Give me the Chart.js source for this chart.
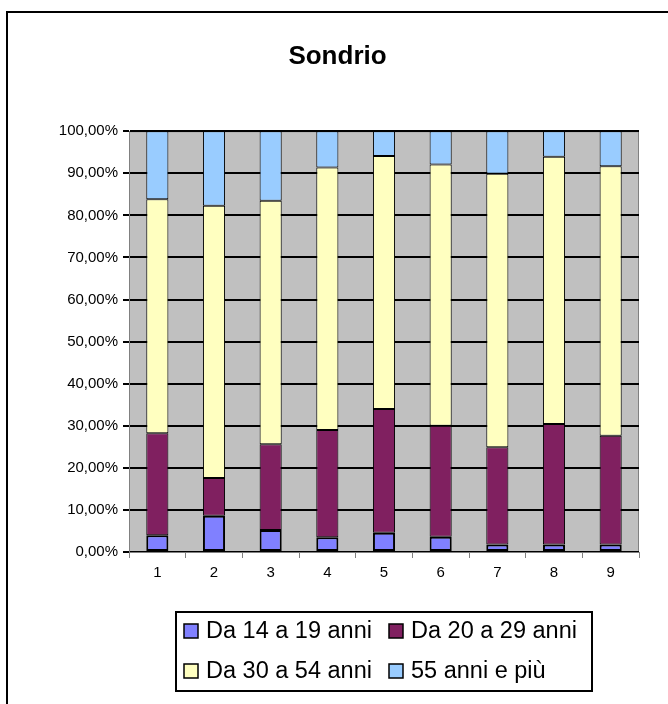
<!DOCTYPE html>
<html lang="it">
<head>
    <meta charset="UTF-8">
    <title>Sondrio</title>
    <script src="https://cdn.jsdelivr.net/npm/chart.js"></script>
    <style>
        body {
            margin: 0;
            background: #ffffff;
        }
        canvas {
            display: block;
        }
    </style>
</head>
<body>
    <canvas id="sondrioChart" width="668" height="704"></canvas>
    <script>
        // Quote per fascia d'età (percentuali, sommano a 100 per ogni colonna)
        const categories = ['1', '2', '3', '4', '5', '6', '7', '8', '9'];
        const eta14_19 = [4.0, 8.6, 5.2, 3.5, 4.6, 3.6, 1.8, 1.8, 1.8];
        const eta20_29 = [24.2, 9.0, 20.4, 25.5, 29.4, 26.4, 23.1, 28.6, 25.8];
        const eta30_54 = [55.6, 64.7, 57.9, 62.4, 60.1, 62.1, 65.0, 63.5, 64.1];
        const eta55piu = [16.2, 17.7, 16.5, 8.6, 5.9, 7.9, 10.1, 6.1, 8.3];
        const seriesNames = ['Da 14 a 19 anni', 'Da 20 a 29 anni', 'Da 30 a 54 anni', '55 anni e più'];
        const seriesColors = ['#8080FF', '#802060', '#FFFFC0', '#99CCFF'];
        const yTicks = [0, 10, 20, 30, 40, 50, 60, 70, 80, 90, 100];

        const FONT = 'Arial, "Liberation Sans", sans-serif';

        // sfondo grigio dell'area del grafico e cornice esterna
        const plotBackground = {
            id: 'plotBackground',
            beforeDraw(chart) {
                const { ctx, chartArea: a } = chart;
                ctx.save();
                ctx.fillStyle = '#C0C0C0';
                ctx.fillRect(a.left, a.top, a.right - a.left, a.bottom - a.top);
                ctx.strokeStyle = '#808080';
                ctx.lineWidth = 1;
                ctx.strokeRect(a.left + 0.5, a.top + 0.5, a.right - a.left - 1, a.bottom - a.top);
                // cornice del riquadro
                ctx.strokeStyle = '#000000';
                ctx.lineWidth = 2;
                ctx.beginPath();
                ctx.moveTo(7, chart.height);
                ctx.lineTo(7, 12);
                ctx.lineTo(chart.width, 12);
                ctx.stroke();
                ctx.restore();
            }
        };

        // legenda in riquadro, due colonne allineate
        const boxedLegend = {
            id: 'boxedLegend',
            afterDraw(chart) {
                const { ctx } = chart;
                ctx.save();
                ctx.strokeStyle = '#000000';
                ctx.lineWidth = 2;
                ctx.strokeRect(176, 612, 416, 79);
                const cols = [184, 389];
                const rows = [631, 671];
                ctx.font = '23.5px ' + FONT;
                ctx.textBaseline = 'middle';
                chart.data.datasets.forEach((ds, i) => {
                    const x = cols[i % 2];
                    const y = rows[Math.floor(i / 2)];
                    ctx.fillStyle = ds.backgroundColor;
                    ctx.fillRect(x, y - 7, 14, 14);
                    ctx.strokeStyle = '#000000';
                    ctx.lineWidth = 1.5;
                    ctx.strokeRect(x, y - 7, 14, 14);
                    ctx.fillStyle = '#000000';
                    ctx.fillText(ds.label, x + 22, y + 1);
                });
                ctx.restore();
            }
        };

        const datasets = [eta14_19, eta20_29, eta30_54, eta55piu].map((values, i) => ({
            label: seriesNames[i],
            data: values,
            backgroundColor: seriesColors[i],
            borderColor: '#000000',
            borderWidth: i === 0 ? 2 : 1,
            borderSkipped: false,
            barPercentage: 0.39,
            categoryPercentage: 1
        }));

        new Chart(document.getElementById('sondrioChart'), {
            type: 'bar',
            data: {
                labels: categories,
                datasets: datasets
            },
            options: {
                responsive: false,
                animation: false,
                layout: {
                    padding: { left: 36, right: 29, top: 0, bottom: 112 }
                },
                plugins: {
                    legend: { display: false },
                    tooltip: { enabled: false },
                    title: {
                        display: true,
                        text: 'Sondrio',
                        color: '#000000',
                        font: { family: FONT, size: 26, weight: 'bold', lineHeight: 1.2 },
                        padding: { top: 41, bottom: 59 }
                    }
                },
                scales: {
                    x: {
                        stacked: true,
                        afterFit(scale) { scale.height = 40; },
                        border: { color: '#808080', width: 1 },
                        grid: {
                            offset: true,
                            drawOnChartArea: false,
                            drawTicks: true,
                            tickLength: 6,
                            color: '#808080'
                        },
                        ticks: {
                            color: '#000000',
                            font: { family: FONT, size: 15 },
                            padding: 6,
                            maxRotation: 0
                        }
                    },
                    y: {
                        stacked: true,
                        min: 0,
                        max: 100,
                        afterFit(scale) { scale.width = 93; },
                        afterBuildTicks(scale) {
                            scale.ticks = yTicks.map(v => ({ value: v }));
                        },
                        border: { color: '#808080', width: 1 },
                        grid: {
                            color: '#000000',
                            lineWidth: 2,
                            tickLength: 6
                        },
                        ticks: {
                            color: '#000000',
                            font: { family: FONT, size: 15 },
                            padding: 5,
                            callback: v => v.toFixed(2).replace('.', ',') + '%'
                        }
                    }
                }
            },
            plugins: [plotBackground, boxedLegend]
        });
    </script>
</body>
</html>
